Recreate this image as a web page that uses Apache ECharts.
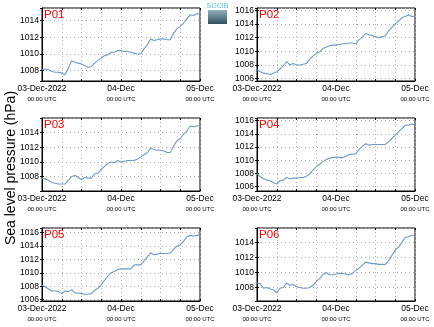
<!DOCTYPE html>
<html><head><meta charset="utf-8">
<script src="https://cdn.jsdelivr.net/npm/echarts@6/dist/echarts.min.js"></script>
<style>html,body{margin:0;padding:0;background:#fff}#c{width:434px;height:327px}</style>
</head><body><div id="c"></div>
<script>
const hours = [0,1,2,3,4,5,6,7,8,9,10,11,12,13,14,15,16,17,18,19,20,21,22,23,24,25,26,27,28,29,30,31,32,33,34,35,36,37,38,39,40,41,42,43,44,45,46,47,48];
const xTickHours = [0, 24, 48];
const xTickDates = ['03-Dec-2022', '04-Dec', '05-Dec'];
const xTickTimes = ['00:00 UTC', '00:00 UTC', '00:00 UTC'];
const panelNames = ['P01','P02','P03','P04','P05','P06'];
const p01 = [1008.1,1008.2,1008.1,1007.9,1007.8,1007.8,1007.7,1007.5,1008.3,1009.2,1009.0,1008.9,1008.8,1008.6,1008.4,1008.5,1008.9,1009.2,1009.5,1009.8,1009.9,1010.2,1010.2,1010.4,1010.4,1010.3,1010.3,1010.2,1010.1,1010.0,1010.0,1010.6,1011.1,1011.8,1011.6,1011.7,1011.8,1011.8,1011.7,1011.7,1012.5,1013.0,1013.3,1013.7,1014.2,1014.7,1014.6,1014.8,1014.8];
const p02 = [1007.3,1007.0,1006.8,1006.7,1006.6,1006.8,1007.0,1007.4,1007.9,1008.5,1008.0,1008.2,1008.0,1008.0,1008.1,1008.2,1008.8,1009.3,1009.7,1009.9,1010.4,1010.6,1010.8,1010.9,1010.9,1011.0,1011.1,1011.1,1011.2,1011.2,1011.1,1011.7,1012.0,1012.6,1012.4,1012.3,1012.1,1012.0,1012.1,1012.3,1013.0,1013.5,1014.0,1014.4,1014.9,1015.1,1015.3,1015.1,1015.1];
const p03 = [1007.8,1007.7,1007.5,1007.2,1007.1,1007.0,1007.0,1007.0,1007.5,1008.0,1008.2,1007.9,1007.6,1007.9,1007.8,1007.8,1008.4,1008.5,1009.0,1009.4,1009.8,1010.0,1009.9,1010.2,1010.0,1010.1,1010.2,1010.2,1010.2,1010.4,1010.7,1011.0,1011.3,1011.9,1011.7,1011.6,1011.6,1011.5,1011.3,1011.3,1012.2,1012.9,1013.2,1013.8,1014.2,1014.9,1014.8,1014.9,1015.0];
const p04 = [1008.0,1007.5,1007.2,1007.0,1006.9,1006.6,1006.4,1006.9,1007.0,1007.4,1007.2,1007.3,1007.3,1007.4,1007.4,1007.6,1007.9,1008.5,1009.0,1009.4,1009.8,1010.1,1010.3,1010.4,1010.5,1010.4,1010.4,1010.6,1010.9,1010.9,1011.0,1011.6,1012.1,1012.5,1012.3,1012.4,1012.4,1012.4,1012.4,1012.4,1012.8,1013.3,1013.8,1014.3,1014.8,1015.3,1015.3,1015.5,1015.4];
const p05 = [1008.2,1007.9,1007.6,1007.3,1007.3,1007.2,1006.9,1007.3,1007.2,1007.5,1007.0,1007.0,1006.9,1006.8,1006.8,1006.9,1007.4,1007.7,1008.2,1008.9,1009.5,1010.0,1010.2,1010.5,1010.6,1010.6,1010.6,1010.6,1011.2,1011.2,1011.2,1011.8,1012.4,1013.0,1012.7,1012.8,1012.9,1012.9,1012.9,1013.0,1013.5,1014.0,1014.2,1014.7,1015.4,1015.6,1015.5,1015.6,1015.6];
const p06 = [1008.6,1008.5,1007.9,1008.0,1007.8,1007.7,1007.3,1007.9,1008.0,1008.6,1008.3,1008.4,1008.1,1008.0,1007.9,1007.9,1008.0,1008.3,1008.8,1009.2,1009.7,1010.0,1009.7,1009.7,1009.8,1009.9,1009.9,1009.8,1009.7,1009.9,1010.3,1010.6,1011.0,1011.4,1011.3,1011.2,1011.2,1011.1,1011.1,1011.1,1011.6,1012.3,1013.0,1013.4,1014.0,1014.7,1014.8,1015.0,1015.0];
const yMins = [1006.76, 1005.65, 1006.05, 1005.35, 1005.8, 1006.2];
const yMaxs = [1015.5, 1016.33, 1016.0, 1016.4, 1016.7, 1015.96];
const yLabel = 'Sea level pressure (hPa)';

const allSeries = [p01, p02, p03, p04, p05, p06];
const lefts = [42, 257];
const tops = [8, 118, 228];
const W = 158, H = 73;
const font = 'Liberation Sans, Arial, Helvetica, sans-serif';
const grids = [], xAxes = [], yAxes = [], series = [], titles = [];
allSeries.forEach((vals, i) => {
  const col = i % 2, row = Math.floor(i / 2);
  grids.push({left: lefts[col], top: tops[row], width: W, height: H, show: true,
    borderColor: '#000', borderWidth: 1, backgroundColor: 'transparent', containLabel: false});
  xAxes.push({type: 'value', gridIndex: i, min: 0, max: 48, interval: 6,
    axisLine: {show: true, lineStyle: {color: '#000', width: 1}},
    axisTick: {show: true, inside: true, length: 2, lineStyle: {color: '#000'}},
    splitLine: {show: true, lineStyle: {color: '#b0b0b0', type: [1, 3], width: 1}},
    axisLabel: {margin: 3, color: '#000', fontFamily: font, showMinLabel: true, showMaxLabel: true,
      formatter: v => { const k = xTickHours.indexOf(v); return k < 0 ? '' : '{a|' + xTickDates[k] + '}\n{b|' + xTickTimes[k] + '}'; },
      rich: {a: {fontSize: 8.5, lineHeight: 10, color: '#000', fontFamily: font},
             b: {fontSize: 6, lineHeight: 10, color: '#000', fontFamily: font}}}
  });
  xAxes.push({type: 'value', gridIndex: i, min: 0, max: 48, interval: 6, position: 'top',
    axisLine: {show: false}, axisTick: {show: true, inside: true, length: 2, lineStyle: {color: '#000'}},
    axisLabel: {show: false}, splitLine: {show: false}});
  yAxes.push({type: 'value', gridIndex: i, min: yMins[i], max: yMaxs[i], splitNumber: 5,
    axisLine: {show: true, lineStyle: {color: '#000', width: 1}},
    axisTick: {show: true, inside: true, length: 2, lineStyle: {color: '#000'}},
    splitLine: {show: true, lineStyle: {color: '#b0b0b0', type: [1, 3], width: 1}},
    axisLabel: {margin: 3, color: '#000', fontSize: 8.5, fontFamily: font, showMinLabel: false, showMaxLabel: false,
      formatter: v => (Math.abs(v - Math.round(v)) < 1e-6 ? String(Math.round(v)) : '')}
  });
  yAxes.push({type: 'value', gridIndex: i, min: yMins[i], max: yMaxs[i], splitNumber: 5, position: 'right',
    axisLine: {show: false}, axisTick: {show: true, inside: true, length: 2, lineStyle: {color: '#000'}},
    axisLabel: {show: false}, splitLine: {show: false}});
  series.push({type: 'line', xAxisIndex: 2 * i, yAxisIndex: 2 * i, showSymbol: false, symbol: 'none',
    data: hours.map((h, k) => [h, vals[k]]), lineStyle: {color: '#6d9acb', width: 1.1}, animation: false});
  titles.push({text: panelNames[i], left: lefts[col] + 2, top: tops[row] + 1, padding: 0,
    textStyle: {color: '#ff0000', fontSize: 11.5, fontWeight: 'normal', fontFamily: font}});
});

const chart = echarts.init(document.getElementById('c'), null, {renderer: 'canvas'});
chart.setOption({
  animation: false,
  title: titles,
  grid: grids, xAxis: xAxes, yAxis: yAxes, series: series,
  graphic: [
    {type: 'text', rotation: Math.PI / 2, x: 4, y: 168,
     style: {text: yLabel, fill: '#000', fontSize: 14, fontFamily: font, textAlign: 'center', textVerticalAlign: 'top'}},
    {type: 'rect', shape: {x: 208, y: 10, width: 19, height: 14},
     style: {fill: new echarts.graphic.LinearGradient(0, 0, 0, 1, [{offset: 0, color: '#8fb2c0'}, {offset: 1, color: '#34505c'}])}},
    {type: 'text', x: 217.5, y: 3, style: {text: 'SOCIB', fill: '#4cc3d6', fontSize: 7, fontFamily: font, textAlign: 'center'}}
  ]
});
</script></body></html>
